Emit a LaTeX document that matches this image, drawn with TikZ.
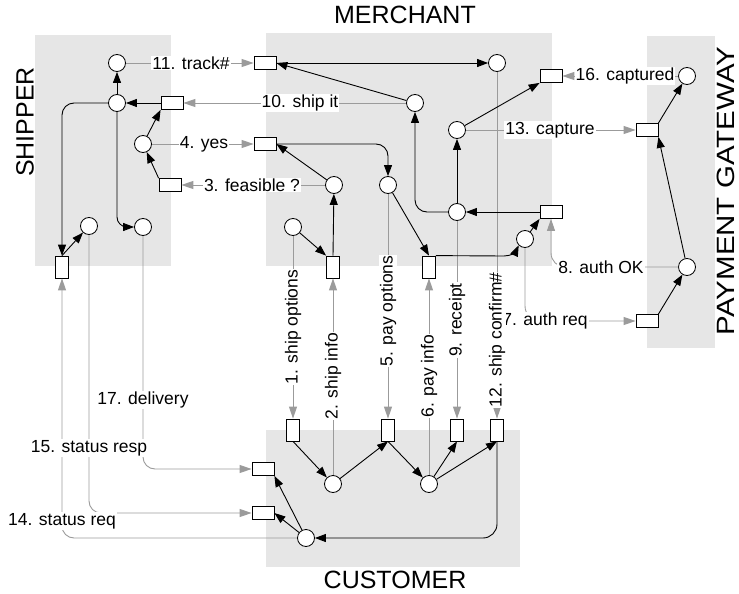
\documentclass[tikz,border=0pt]{standalone}
\usepackage{fontspec}
\setmainfont{Liberation Sans}
\usetikzlibrary{arrows.meta,calc}
\definecolor{msg}{RGB}{155,155,155}
\definecolor{lanegray}{RGB}{230,230,230}
\begin{document}
\begin{tikzpicture}[x=1pt,y=-1pt,
 place/.style={circle,draw,fill=white,minimum size=17pt,inner sep=0pt,line width=0.8pt},
 transH/.style={rectangle,draw,fill=white,minimum width=22pt,minimum height=13pt,inner sep=0pt,line width=0.8pt},
 transV/.style={rectangle,draw,fill=white,minimum width=13pt,minimum height=22pt,inner sep=0pt,line width=0.8pt},
 arc/.style={draw=black,line width=0.9pt,-{Triangle[length=11pt,width=8pt]}},
 flow/.style={draw=msg,line width=0.9pt,-{Triangle[length=12pt,width=8pt]}},
 lbl/.style={fill=white,inner sep=1pt,font=\fontsize{17.5}{20}\selectfont},
 title/.style={font=\fontsize{25}{28}\selectfont,inner sep=0pt}]
\useasboundingbox (0,0) rectangle (739,594);
% lanes
\fill[lanegray] (35,35) rectangle (171,266);
\fill[lanegray] (266,33) rectangle (552,266);
\fill[lanegray] (647,36) rectangle (715,348);
\fill[lanegray] (266,430) rectangle (520,567);
% titles
\node[title] (tm) at (405,15) {MERCHANT};
\node[title] (tc) at (395,580) {CUSTOMER};
\node[title,rotate=90] (ts) at (25,122) {SHIPPER};
\node[title,rotate=90] (tg) at (726,191) {\scalebox{1.18}[1]{PAYMENT GATEWAY}};
% shipper
\node[place] (s1) at (117,63) {};
\node[place] (s2) at (117,103) {};
\node[transH] (st1) at (172,103) {};
\node[place] (s3) at (143,144) {};
\node[transH] (st2) at (170,185) {};
\node[place] (s4) at (89,226) {};
\node[place] (s5) at (143,227) {};
\node[transV] (st3) at (62,267) {};
% merchant
\node[transH] (mt1) at (265,63) {};
\node[place] (m1) at (497,63) {};
\node[place] (mshipit) at (415,103) {};
\node[transH] (mt2) at (265,144) {};
\node[place] (mfeas) at (334,185) {};
\node[place] (mpayopt) at (388,185) {};
\node[place] (m0) at (293,227) {};
\node[transV] (mtshipinfo) at (333,267) {};
\node[transV] (mtpayinfo) at (429,267) {};
\node[place] (mauth) at (525,239) {};
\node[transH] (mtauthok) at (551,212) {};
\node[place] (mmid) at (457,212) {};
\node[place] (mcapt) at (457,130) {};
\node[transH] (mtcaptured) at (551,76) {};
% gateway
\node[transH] (ptcapt) at (647,130) {};
\node[place] (pcapt) at (687,76) {};
\node[place] (pauthok) at (687,267) {};
\node[transH] (pt1) at (647,321) {};
% customer
\node[transV] (ct1) at (293,430) {};
\node[transV] (ct5) at (388,430) {};
\node[transV] (ct9) at (457,430) {};
\node[transV] (ct12) at (497,430) {};
\node[place] (cp2) at (333,484) {};
\node[place] (cp6) at (429,484) {};
\node[transH] (ctup) at (263,469) {};
\node[transH] (ctlow) at (263,513) {};
\node[place] (cpb) at (306,538) {};
% message flows
\draw[flow] (m0) -- (ct1);
\draw[flow] (cp2) -- (mtshipinfo);
\draw[flow] (mfeas) -- (st2);
\draw[flow] (s3) -- (mt2);
\draw[flow] (mpayopt) -- (ct5);
\draw[flow] (cp6) -- (mtpayinfo);
\draw[flow,rounded corners=15pt] (mauth.south) |- (pt1.west);
\draw[flow,rounded corners=14pt] (pauthok.west) -| (mtauthok.south);
\draw[flow] (mmid) -- (ct9);
\draw[flow] (mshipit) -- (st1);
\draw[flow] (s1) -- (mt1);
\draw[flow] (m1) -- (ct12);
\draw[flow] (mcapt) -- (ptcapt);
\draw[flow,rounded corners=12pt] (cpb.west) -| (st3.south);
\draw[flow,rounded corners=12pt] (s4.south) |- (ctlow.west);
\draw[flow] (pcapt) -- (mtcaptured);
\draw[flow,rounded corners=12pt] (s5.south) |- (ctup.west);
% labels
\node[lbl,rotate=90] (l1) at (293,327) {1. ship options};
\node[lbl,rotate=90] (l2) at (333,376) {2. ship info};
\node[lbl] (l3) at (252,185) {3. feasible ?};
\node[lbl] (l4) at (204,144) {4. yes};
\node[lbl,rotate=90] (l5) at (388,311) {5. pay options};
\node[lbl,rotate=90] (l6) at (429,376) {6. pay info};
\node[lbl] (l7) at (545,321) {7. auth req};
\node[lbl] (l8) at (601,267) {8. auth OK};
\node[lbl,rotate=90] (l9) at (457,320) {9. receipt};
\node[lbl] (l10) at (300,103) {10. ship it};
\node[lbl] (l11) at (191,63) {11. track\#};
\node[lbl,rotate=90] (l12) at (497,340) {12. ship confirm\#};
\node[lbl] (l13) at (550,130) {13. capture};
\node[lbl] (l14) at (62,521) {14. status req};
\node[lbl] (l15) at (89,448) {15. status resp};
\node[lbl] (l16) at (625,76) {16. captured};
\node[lbl] (l17) at (143,400) {17. delivery};
% black arcs - shipper
\draw[arc] (s2) -- (s1);
\draw[arc] (st1) -- (s2);
\draw[arc] (s3) -- (st1.south west);
\draw[arc] (st2.north west) -- (s3);
\draw[arc,rounded corners=12pt] (s2.west) -| (st3.north);
\draw[arc] (st3.north) -- (s4);
\draw[arc,rounded corners=10pt] (s2.south) |- (s5.west);
% merchant
\draw[arc] (mt1.east) -- (m1);
\draw[arc] (mshipit) -- (mt1.east);
\draw[arc] (mfeas) -- (mt2.east);
\draw[arc,rounded corners=12pt] (mt2.east) -| (mpayopt.north);
\draw[arc] (m0) -- (mtshipinfo.north west);
\draw[arc] (mtshipinfo.north) -- (mfeas);
\draw[arc] (mpayopt) -- (mtpayinfo.north);
\draw[arc] (mtpayinfo.north east) -- (504,256) to[out=0,in=245] (mauth.south west);
\draw[arc] (mauth) -- (mtauthok.south west);
\draw[arc] (mtauthok.west) -- (mmid);
\draw[arc] (mmid) -- (mcapt);
\draw[arc,rounded corners=12pt] (mmid.west) -| (mshipit.south);
\draw[arc] (mcapt) -- (mtcaptured.south west);
% gateway
\draw[arc] (pt1.north east) -- (pauthok);
\draw[arc] (pauthok) -- (ptcapt.south east);
\draw[arc] (ptcapt.north east) -- (pcapt);
% customer
\draw[arc] (ct1.south) -- (cp2);
\draw[arc] (cp2) -- (ct5.south);
\draw[arc] (ct5.south) -- (cp6);
\draw[arc] (cp6) -- (ct9.south);
\draw[arc] (cp6) -- (ct12.south);
\draw[arc,rounded corners=14pt] (ct12.south) |- (cpb.east);
\draw[arc] (cpb) -- (ctlow.east);
\draw[arc] (cpb) -- (ctup.south east);
\end{tikzpicture}
\end{document}
